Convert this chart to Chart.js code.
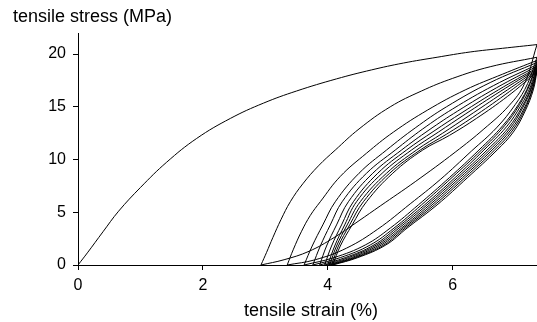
<!DOCTYPE html>
<html>
<head>
<meta charset="utf-8">
<script src="https://cdn.jsdelivr.net/npm/chart.js@4"></script>
<style>
html, body { margin: 0; padding: 0; background: #fff; }
</style>
</head>
<body>
<canvas id="stress-chart" width="537" height="322"></canvas>
<script>
///////////////////////Data//////////////////////////
const xTitle = 'tensile strain (%)';
const yTitle = 'tensile stress (MPa)';
const xTicks = [0, 2, 4, 6];
const yTicks = [0, 5, 10, 15, 20];

// first loading, strain (%) / stress (MPa)
const loadStrain = [0, 0.15, 0.4, 0.65, 1.0, 1.42, 1.9, 2.44, 2.97, 3.5, 4.14, 4.7, 5.21, 5.75, 6.28, 6.8, 7.35];
const loadStress = [0, 1.15, 3.15, 5.1, 7.35, 9.75, 12.0, 13.9, 15.35, 16.5, 17.65, 18.5, 19.15, 19.7, 20.2, 20.55, 20.9];

// reloading curves (upper branches), [strain, stress]
const reloadCurves = [
  [[2.93,0],[3.02,1.2],[3.12,2.6],[3.25,4.3],[3.4,6.0],[3.6,7.7],[3.85,9.4],[4.12,10.9],[4.5,12.9],[5.0,15.0],[5.5,16.5],[6.0,17.7],[6.6,18.8],[7.35,19.7]],
  [[3.35,0],[3.45,1.5],[3.58,3.2],[3.72,4.7],[3.88,6.0],[4.2,8.4],[4.62,10.6],[5.05,12.6],[5.6,14.7],[6.2,16.6],[6.8,18.1],[7.35,19.4]],
  [[3.62,0],[3.75,1.8],[3.92,3.8],[4.12,6.0],[4.5,8.7],[4.94,10.9],[5.4,13.0],[5.9,15.0],[6.6,17.3],[7.35,19.2]],
  [[3.76,0],[3.88,1.8],[4.04,3.8],[4.23,6.0],[4.62,8.7],[5.08,10.9],[5.52,12.9],[6.0,14.8],[6.65,17.0],[7.35,19.0]],
  [[3.87,0],[3.98,1.8],[4.14,3.8],[4.33,6.0],[4.72,8.7],[5.18,10.9],[5.62,12.8],[6.08,14.6],[6.7,16.8],[7.35,18.85]],
  [[3.95,0],[4.06,1.8],[4.22,3.8],[4.41,6.0],[4.8,8.7],[5.26,10.9],[5.7,12.7],[6.15,14.45],[6.73,16.6],[7.35,18.7]],
  [[4.0,0],[4.11,1.8],[4.27,3.8],[4.46,6.0],[4.87,8.7],[5.34,10.9],[5.77,12.6],[6.2,14.3],[6.76,16.45],[7.35,18.6]],
  [[4.03,0],[4.14,1.8],[4.31,3.8],[4.52,6.0],[4.94,8.7],[5.42,10.9],[5.84,12.5],[6.26,14.15],[6.8,16.3],[7.35,18.5]],
  [[4.06,0],[4.17,1.8],[4.35,3.8],[4.57,6.0],[4.99,8.7],[5.48,10.9],[5.9,12.4],[6.32,14.0],[6.84,16.15],[7.35,18.4]],
  [[4.08,0],[4.2,1.8],[4.39,3.8],[4.62,6.0],[5.04,8.7],[5.52,10.9],[5.95,12.3],[6.38,13.9],[6.88,16.0],[7.35,18.3]]
];

// unloading curves (lower branches), [strain, stress]
const unloadCurves = [
  [[2.93,0],[3.3,0.5],[3.7,1.3],[4.1,2.6],[4.5,4.2],[4.84,5.6],[5.4,7.9],[6.04,10.7],[6.5,12.9],[6.9,15.1],[7.15,17.2],[7.35,20.9]],
  [[3.35,0],[3.8,0.5],[4.3,1.6],[4.8,3.4],[5.32,5.8],[5.8,8.1],[6.3,10.8],[6.7,13.0],[7.0,15.2],[7.2,17.2],[7.35,19.7]],
  [[3.62,0],[4.1,0.7],[4.6,1.9],[5.0,3.5],[5.45,5.7],[5.95,8.3],[6.42,10.9],[6.8,13.2],[7.05,15.2],[7.23,17.2],[7.35,19.4]],
  [[3.76,0],[4.2,0.7],[4.68,1.9],[5.06,3.5],[5.5,5.7],[5.99,8.3],[6.46,10.9],[6.83,13.2],[7.07,15.2],[7.24,17.2],[7.35,19.2]],
  [[3.87,0],[4.28,0.7],[4.74,1.9],[5.1,3.5],[5.55,5.7],[6.04,8.3],[6.5,10.9],[6.86,13.1],[7.09,15.1],[7.25,17.0],[7.35,19.0]],
  [[3.95,0],[4.33,0.7],[4.78,1.9],[5.14,3.5],[5.59,5.7],[6.08,8.3],[6.55,10.9],[6.89,13.0],[7.11,15.0],[7.26,16.9],[7.35,18.85]],
  [[4.0,0],[4.38,0.7],[4.82,1.9],[5.18,3.5],[5.63,5.7],[6.12,8.3],[6.59,10.9],[6.91,12.9],[7.12,14.9],[7.27,16.9],[7.35,18.7]],
  [[4.03,0],[4.42,0.7],[4.86,1.9],[5.21,3.5],[5.67,5.7],[6.16,8.3],[6.63,10.9],[6.93,12.8],[7.14,14.8],[7.28,16.8],[7.35,18.6]],
  [[4.06,0],[4.45,0.7],[4.9,1.9],[5.24,3.5],[5.71,5.7],[6.2,8.3],[6.67,10.9],[6.95,12.7],[7.15,14.7],[7.28,16.7],[7.35,18.5]],
  [[4.08,0],[4.48,0.7],[4.93,1.9],[5.27,3.5],[5.75,5.7],[6.24,8.3],[6.71,10.9],[6.97,12.6],[7.16,14.6],[7.29,16.6],[7.35,18.4]]
];

///////////////////////Chart//////////////////////////
const fontFamily = '"Liberation Sans", Arial, sans-serif';

const toPoints = curve => curve.map(p => ({ x: p[0], y: p[1] }));

// every curve is a thin black line, no markers
const lineStyle = data => ({
  data: data,
  showLine: true,
  borderColor: '#000',
  backgroundColor: '#000',
  borderWidth: 1,
  pointRadius: 0,
  fill: false,
  tension: 0.4
});

const datasets = [lineStyle(loadStrain.map((x, i) => ({ x: x, y: loadStress[i] })))]
  .concat(reloadCurves.map(c => lineStyle(toPoints(c))))
  .concat(unloadCurves.map(c => lineStyle(toPoints(c))));

// axis titles drawn as plain text, y title sits above the axis
const axisTitles = {
  id: 'axisTitles',
  afterDraw(chart) {
    const ctx = chart.ctx;
    ctx.save();
    ctx.fillStyle = '#000';
    ctx.font = '18px ' + fontFamily;
    ctx.textBaseline = 'middle';
    ctx.textAlign = 'left';
    ctx.fillText(yTitle, 13, 17);
    ctx.textAlign = 'center';
    ctx.fillText(xTitle, 311, 311);
    ctx.restore();
  }
};

new Chart(document.getElementById('stress-chart'), {
  type: 'scatter',
  data: { datasets: datasets },
  options: {
    responsive: false,
    animation: false,
    layout: { padding: { top: 33, left: 0, right: 0, bottom: 0 } },
    plugins: {
      legend: { display: false },
      tooltip: { enabled: false }
    },
    scales: {
      x: {
        type: 'linear',
        min: 0,
        max: 7.35,
        border: { color: '#000', width: 1 },
        grid: { drawOnChartArea: false, tickLength: 5, color: '#000' },
        ticks: { stepSize: 2, color: '#000', padding: 6, font: { size: 16, family: fontFamily } },
        afterBuildTicks: s => { s.ticks = xTicks.map(v => ({ value: v })); },
        afterFit: s => { s.height = 57; }
      },
      y: {
        type: 'linear',
        min: 0,
        max: 22,
        border: { color: '#000', width: 1 },
        grid: { drawOnChartArea: false, tickLength: 5, color: '#000' },
        ticks: { stepSize: 5, color: '#000', padding: 7, font: { size: 16, family: fontFamily } },
        afterBuildTicks: s => { s.ticks = yTicks.map(v => ({ value: v })); },
        afterFit: s => { s.width = 78; }
      }
    }
  },
  plugins: [axisTitles]
});
</script>
</body>
</html>
